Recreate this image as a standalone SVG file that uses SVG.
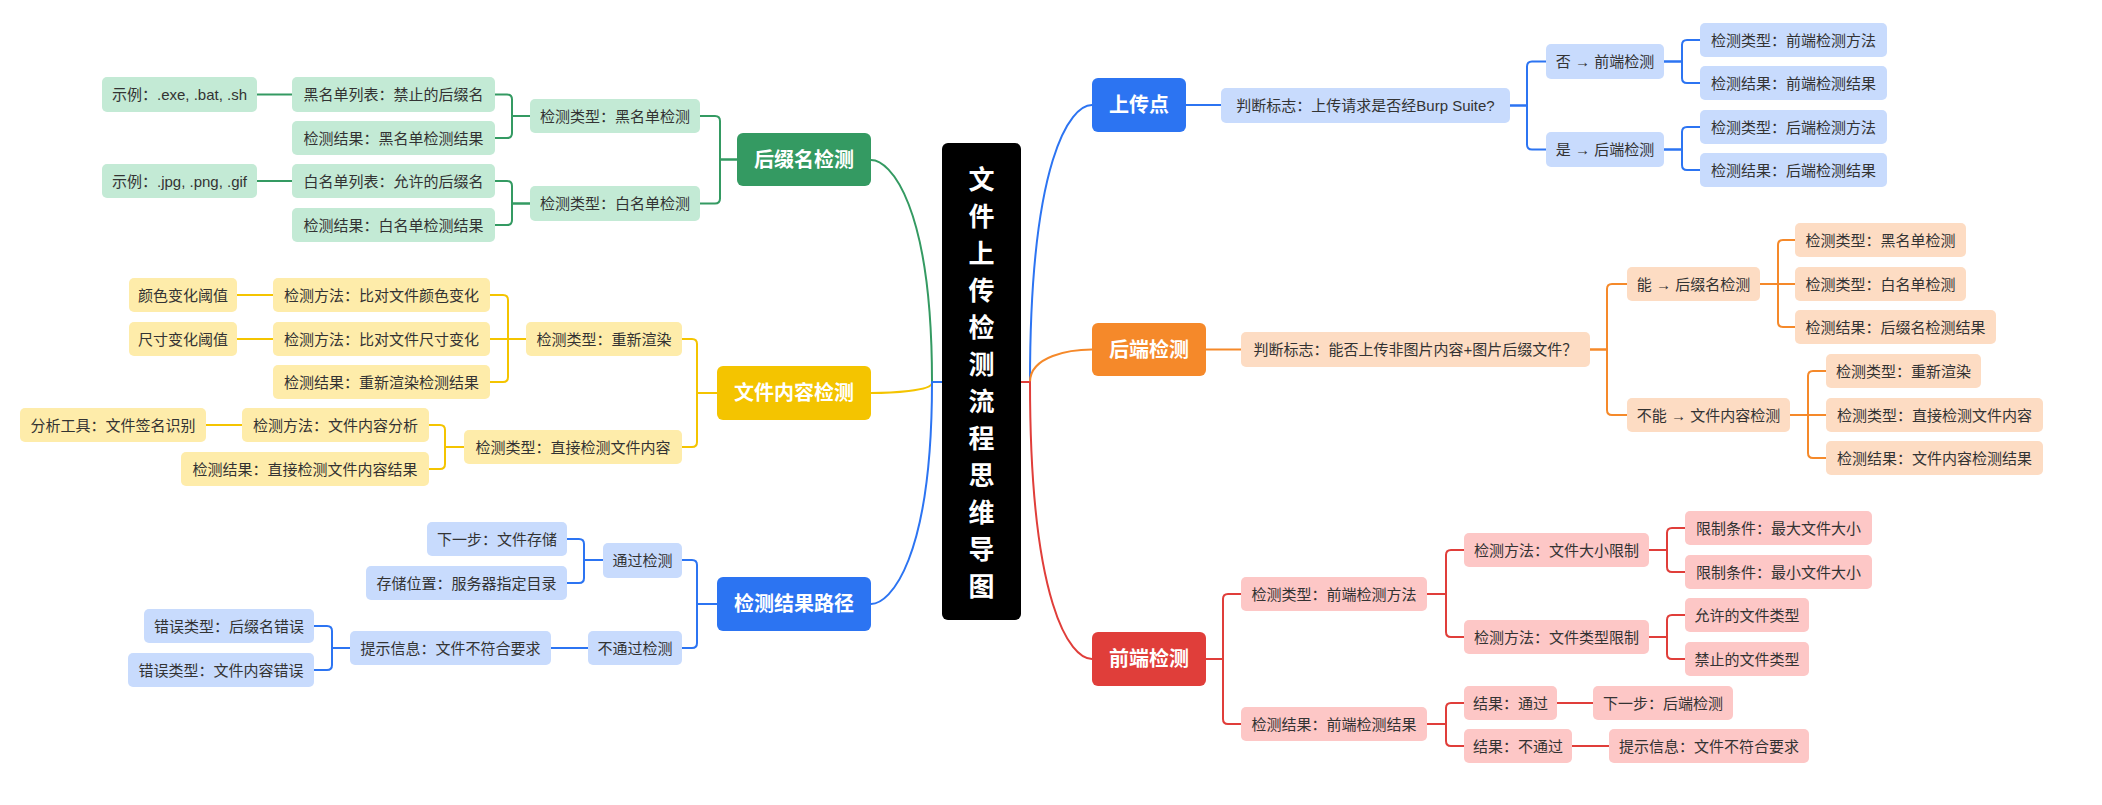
<svg xmlns="http://www.w3.org/2000/svg" width="2102" height="805" viewBox="0 0 2102 805">
<style>
text{font-family:"Liberation Sans","Noto Sans CJK SC",sans-serif;text-anchor:middle;dominant-baseline:central}
.t{font-size:15px;fill:#333}
.h{font-size:20px;font-weight:bold;fill:#fff}
.c{font-size:26px;font-weight:bold;fill:#fff}
.cn path{fill:none;stroke-width:2;stroke-linecap:round}
.bl{stroke:#2C74F2}.or{stroke:#F5892A}.rd{stroke:#E03E3A}.gr{stroke:#349A62}.yl{stroke:#F4C400}
.lb{fill:#C8DBFD}.lo{fill:#FDDCC3}.lr{fill:#FDC7C6}.lg{fill:#C3EAD5}.ly{fill:#FEECAA}
.Hb{fill:#2C74F2}.Ho{fill:#F5892A}.Hr{fill:#E03E3A}.Hg{fill:#349A62}.Hy{fill:#F4C400}
</style>
<rect width="2102" height="805" fill="#fff"/>
<g id="connectors" class="cn">
<path class="bl" d="M942 382H932"/>
<path class="rd" d="M1021 382H1030"/>
<path class="gr" d="M932 382C932 204 890 160 871 160"/>
<path class="yl" d="M932 383C932 391 890 393 871 393"/>
<path class="bl" d="M932 382C932 560 890 604 871 604"/>
<path class="bl" d="M1030 382C1030 160 1070 105 1092 105"/>
<path class="or" d="M1030 382C1030 356 1070 349.5 1092 349.5"/>
<path class="rd" d="M1030 382C1030 604 1070 659 1092 659"/>
<path class="bl" d="M1186 105H1221"/>
<path class="bl" d="M1510 105.5H1527V66.5Q1527 61.5 1532 61.5H1546"/>
<path class="bl" d="M1510 105.5H1527V144.5Q1527 149.5 1532 149.5H1546"/>
<path class="bl" d="M1664 61.5H1682V45Q1682 40 1687 40H1700"/>
<path class="bl" d="M1664 61.5H1682V78Q1682 83 1687 83H1700"/>
<path class="bl" d="M1664 149.5H1682V132Q1682 127 1687 127H1700"/>
<path class="bl" d="M1664 149.5H1682V165Q1682 170 1687 170H1700"/>
<path class="or" d="M1206 349.5H1241"/>
<path class="or" d="M1590 349.5H1607V289Q1607 284 1612 284H1627"/>
<path class="or" d="M1590 349.5H1607V410Q1607 415 1612 415H1627"/>
<path class="or" d="M1760 284H1778V245Q1778 240 1783 240H1795"/>
<path class="or" d="M1760 284H1795"/>
<path class="or" d="M1760 284H1778V322Q1778 327 1783 327H1795"/>
<path class="or" d="M1790 415H1808V376Q1808 371 1813 371H1826"/>
<path class="or" d="M1790 415H1826"/>
<path class="or" d="M1790 415H1808V453Q1808 458 1813 458H1826"/>
<path class="rd" d="M1206 659H1223V599Q1223 594 1228 594H1241"/>
<path class="rd" d="M1206 659H1223V719Q1223 724 1228 724H1241"/>
<path class="rd" d="M1427 594H1446V555Q1446 550 1451 550H1464"/>
<path class="rd" d="M1427 594H1446V632Q1446 637 1451 637H1464"/>
<path class="rd" d="M1649 550H1667V533Q1667 528 1672 528H1685"/>
<path class="rd" d="M1649 550H1667V567Q1667 572 1672 572H1685"/>
<path class="rd" d="M1649 637H1667V620Q1667 615 1672 615H1685"/>
<path class="rd" d="M1649 637H1667V654Q1667 659 1672 659H1685"/>
<path class="rd" d="M1427 724H1446V708Q1446 703 1451 703H1464"/>
<path class="rd" d="M1427 724H1446V741Q1446 746 1451 746H1464"/>
<path class="rd" d="M1557 703H1593"/>
<path class="rd" d="M1572 746H1609"/>
<path class="gr" d="M737 159.5H720V121Q720 116 715 116H700"/>
<path class="gr" d="M737 159.5H720V198.5Q720 203.5 715 203.5H700"/>
<path class="gr" d="M530 116H512V99.5Q512 94.5 507 94.5H495"/>
<path class="gr" d="M530 116H512V133Q512 138 507 138H495"/>
<path class="gr" d="M292 94.5H257"/>
<path class="gr" d="M530 203.5H512V186Q512 181 507 181H495"/>
<path class="gr" d="M530 203.5H512V220Q512 225 507 225H495"/>
<path class="gr" d="M292 181H257"/>
<path class="yl" d="M717 393H697V344Q697 339 692 339H682"/>
<path class="yl" d="M717 393H697V442Q697 447 692 447H682"/>
<path class="yl" d="M526 339H508V300Q508 295 503 295H490"/>
<path class="yl" d="M526 339H490"/>
<path class="yl" d="M526 339H508V377Q508 382 503 382H490"/>
<path class="yl" d="M273 295H237"/>
<path class="yl" d="M273 339H237"/>
<path class="yl" d="M464 447H445V430Q445 425 440 425H429"/>
<path class="yl" d="M464 447H445V464Q445 469 440 469H429"/>
<path class="yl" d="M242 425H206"/>
<path class="bl" d="M717 604H697V565Q697 560 692 560H682"/>
<path class="bl" d="M717 604H697V643Q697 648 692 648H682"/>
<path class="bl" d="M603 560H584V544Q584 539 579 539H567"/>
<path class="bl" d="M603 560H584V578Q584 583 579 583H567"/>
<path class="bl" d="M588 648H551"/>
<path class="bl" d="M350 648H332V631Q332 626 327 626H314"/>
<path class="bl" d="M350 648H332V665Q332 670 327 670H314"/>
</g>
<g id="center"><rect x="942" y="143" width="79" height="477" rx="6" fill="#000"/>
<text class="c" x="981.5" y="180">文</text><text class="c" x="981.5" y="217">件</text><text class="c" x="981.5" y="254">上</text><text class="c" x="981.5" y="291">传</text><text class="c" x="981.5" y="328">检</text><text class="c" x="981.5" y="365">测</text><text class="c" x="981.5" y="402">流</text><text class="c" x="981.5" y="439">程</text><text class="c" x="981.5" y="476">思</text><text class="c" x="981.5" y="513">维</text><text class="c" x="981.5" y="550">导</text><text class="c" x="981.5" y="587">图</text></g>
<g id="n-upload"><rect class="Hb" x="1092" y="78" width="94" height="54" rx="6"/><text class="h" x="1139" y="105">上传点</text></g>
<g id="n-up-flag"><rect class="lb" x="1221" y="88" width="289" height="35" rx="5"/><text class="t" x="1365.5" y="105.5">判断标志：上传请求是否经Burp Suite?</text></g>
<g id="n-up-no"><rect class="lb" x="1546" y="44" width="118" height="35" rx="5"/><text class="t" x="1605" y="61.5">否 → 前端检测</text></g>
<g id="n-up-yes"><rect class="lb" x="1546" y="132" width="118" height="35" rx="5"/><text class="t" x="1605" y="149.5">是 → 后端检测</text></g>
<g id="n-up-no-1"><rect class="lb" x="1700" y="23" width="187" height="34" rx="5"/><text class="t" x="1793.5" y="40">检测类型：前端检测方法</text></g>
<g id="n-up-no-2"><rect class="lb" x="1700" y="66" width="187" height="34" rx="5"/><text class="t" x="1793.5" y="83">检测结果：前端检测结果</text></g>
<g id="n-up-yes-1"><rect class="lb" x="1700" y="110" width="187" height="34" rx="5"/><text class="t" x="1793.5" y="127">检测类型：后端检测方法</text></g>
<g id="n-up-yes-2"><rect class="lb" x="1700" y="153" width="187" height="34" rx="5"/><text class="t" x="1793.5" y="170">检测结果：后端检测结果</text></g>
<g id="n-backend"><rect class="Ho" x="1092" y="323" width="114" height="53" rx="6"/><text class="h" x="1149" y="349.5">后端检测</text></g>
<g id="n-be-flag"><rect class="lo" x="1241" y="332" width="349" height="35" rx="5"/><text class="t" x="1415.5" y="349.5">判断标志：能否上传非图片内容+图片后缀文件？</text></g>
<g id="n-be-yes"><rect class="lo" x="1627" y="267" width="133" height="34" rx="5"/><text class="t" x="1693.5" y="284">能 → 后缀名检测</text></g>
<g id="n-be-no"><rect class="lo" x="1627" y="398" width="163" height="34" rx="5"/><text class="t" x="1708.5" y="415">不能 → 文件内容检测</text></g>
<g id="n-be-yes-1"><rect class="lo" x="1795" y="223" width="171" height="34" rx="5"/><text class="t" x="1880.5" y="240">检测类型：黑名单检测</text></g>
<g id="n-be-yes-2"><rect class="lo" x="1795" y="267" width="171" height="34" rx="5"/><text class="t" x="1880.5" y="284">检测类型：白名单检测</text></g>
<g id="n-be-yes-3"><rect class="lo" x="1795" y="310" width="201" height="34" rx="5"/><text class="t" x="1895.5" y="327">检测结果：后缀名检测结果</text></g>
<g id="n-be-no-1"><rect class="lo" x="1826" y="354" width="155" height="34" rx="5"/><text class="t" x="1903.5" y="371">检测类型：重新渲染</text></g>
<g id="n-be-no-2"><rect class="lo" x="1826" y="398" width="217" height="34" rx="5"/><text class="t" x="1934.5" y="415">检测类型：直接检测文件内容</text></g>
<g id="n-be-no-3"><rect class="lo" x="1826" y="441" width="217" height="34" rx="5"/><text class="t" x="1934.5" y="458">检测结果：文件内容检测结果</text></g>
<g id="n-frontend"><rect class="Hr" x="1092" y="632" width="114" height="54" rx="6"/><text class="h" x="1149" y="659">前端检测</text></g>
<g id="n-fe-type"><rect class="lr" x="1241" y="577" width="186" height="34" rx="5"/><text class="t" x="1334" y="594">检测类型：前端检测方法</text></g>
<g id="n-fe-res"><rect class="lr" x="1241" y="707" width="186" height="34" rx="5"/><text class="t" x="1334" y="724">检测结果：前端检测结果</text></g>
<g id="n-fe-size"><rect class="lr" x="1464" y="533" width="185" height="34" rx="5"/><text class="t" x="1556.5" y="550">检测方法：文件大小限制</text></g>
<g id="n-fe-kind"><rect class="lr" x="1464" y="620" width="185" height="34" rx="5"/><text class="t" x="1556.5" y="637">检测方法：文件类型限制</text></g>
<g id="n-fe-max"><rect class="lr" x="1685" y="511" width="187" height="34" rx="5"/><text class="t" x="1778.5" y="528">限制条件：最大文件大小</text></g>
<g id="n-fe-min"><rect class="lr" x="1685" y="555" width="187" height="34" rx="5"/><text class="t" x="1778.5" y="572">限制条件：最小文件大小</text></g>
<g id="n-fe-allow"><rect class="lr" x="1685" y="598" width="124" height="34" rx="5"/><text class="t" x="1747" y="615">允许的文件类型</text></g>
<g id="n-fe-deny"><rect class="lr" x="1685" y="642" width="124" height="34" rx="5"/><text class="t" x="1747" y="659">禁止的文件类型</text></g>
<g id="n-fe-pass"><rect class="lr" x="1464" y="686" width="93" height="34" rx="5"/><text class="t" x="1510.5" y="703">结果：通过</text></g>
<g id="n-fe-next"><rect class="lr" x="1593" y="686" width="140" height="34" rx="5"/><text class="t" x="1663" y="703">下一步：后端检测</text></g>
<g id="n-fe-fail"><rect class="lr" x="1464" y="729" width="108" height="34" rx="5"/><text class="t" x="1518" y="746">结果：不通过</text></g>
<g id="n-fe-tip"><rect class="lr" x="1609" y="729" width="200" height="34" rx="5"/><text class="t" x="1709" y="746">提示信息：文件不符合要求</text></g>
<g id="n-suffix"><rect class="Hg" x="737" y="133" width="134" height="53" rx="6"/><text class="h" x="804" y="159.5">后缀名检测</text></g>
<g id="n-sf-black"><rect class="lg" x="530" y="99" width="170" height="34" rx="5"/><text class="t" x="615" y="116">检测类型：黑名单检测</text></g>
<g id="n-sf-white"><rect class="lg" x="530" y="186" width="170" height="35" rx="5"/><text class="t" x="615" y="203.5">检测类型：白名单检测</text></g>
<g id="n-sf-blist"><rect class="lg" x="292" y="77" width="203" height="35" rx="5"/><text class="t" x="393.5" y="94.5">黑名单列表：禁止的后缀名</text></g>
<g id="n-sf-bres"><rect class="lg" x="292" y="121" width="203" height="34" rx="5"/><text class="t" x="393.5" y="138">检测结果：黑名单检测结果</text></g>
<g id="n-sf-bex"><rect class="lg" x="102" y="77" width="155" height="35" rx="5"/><text class="t" x="179.5" y="94.5">示例：.exe, .bat, .sh</text></g>
<g id="n-sf-wlist"><rect class="lg" x="292" y="164" width="203" height="34" rx="5"/><text class="t" x="393.5" y="181">白名单列表：允许的后缀名</text></g>
<g id="n-sf-wres"><rect class="lg" x="292" y="208" width="203" height="34" rx="5"/><text class="t" x="393.5" y="225">检测结果：白名单检测结果</text></g>
<g id="n-sf-wex"><rect class="lg" x="102" y="164" width="155" height="34" rx="5"/><text class="t" x="179.5" y="181">示例：.jpg, .png, .gif</text></g>
<g id="n-content"><rect class="Hy" x="717" y="366" width="154" height="54" rx="6"/><text class="h" x="794" y="393">文件内容检测</text></g>
<g id="n-ct-render"><rect class="ly" x="526" y="322" width="156" height="34" rx="5"/><text class="t" x="604" y="339">检测类型：重新渲染</text></g>
<g id="n-ct-direct"><rect class="ly" x="464" y="430" width="218" height="34" rx="5"/><text class="t" x="573" y="447">检测类型：直接检测文件内容</text></g>
<g id="n-ct-color"><rect class="ly" x="273" y="278" width="217" height="34" rx="5"/><text class="t" x="381.5" y="295">检测方法：比对文件颜色变化</text></g>
<g id="n-ct-dim"><rect class="ly" x="273" y="322" width="217" height="34" rx="5"/><text class="t" x="381.5" y="339">检测方法：比对文件尺寸变化</text></g>
<g id="n-ct-rres"><rect class="ly" x="273" y="365" width="217" height="34" rx="5"/><text class="t" x="381.5" y="382">检测结果：重新渲染检测结果</text></g>
<g id="n-ct-cth"><rect class="ly" x="129" y="278" width="108" height="34" rx="5"/><text class="t" x="183" y="295">颜色变化阈值</text></g>
<g id="n-ct-dth"><rect class="ly" x="129" y="322" width="108" height="34" rx="5"/><text class="t" x="183" y="339">尺寸变化阈值</text></g>
<g id="n-ct-anal"><rect class="ly" x="242" y="408" width="187" height="34" rx="5"/><text class="t" x="335.5" y="425">检测方法：文件内容分析</text></g>
<g id="n-ct-dres"><rect class="ly" x="181" y="452" width="248" height="34" rx="5"/><text class="t" x="305" y="469">检测结果：直接检测文件内容结果</text></g>
<g id="n-ct-tool"><rect class="ly" x="20" y="408" width="186" height="34" rx="5"/><text class="t" x="113" y="425">分析工具：文件签名识别</text></g>
<g id="n-path"><rect class="Hb" x="717" y="577" width="154" height="54" rx="6"/><text class="h" x="794" y="604">检测结果路径</text></g>
<g id="n-pa-pass"><rect class="lb" x="603" y="543" width="79" height="35" rx="5"/><text class="t" x="642.5" y="560.5">通过检测</text></g>
<g id="n-pa-fail"><rect class="lb" x="588" y="631" width="94" height="34" rx="5"/><text class="t" x="635" y="648">不通过检测</text></g>
<g id="n-pa-next"><rect class="lb" x="427" y="522" width="140" height="34" rx="5"/><text class="t" x="497" y="539">下一步：文件存储</text></g>
<g id="n-pa-loc"><rect class="lb" x="366" y="566" width="201" height="34" rx="5"/><text class="t" x="466.5" y="583">存储位置：服务器指定目录</text></g>
<g id="n-pa-tip"><rect class="lb" x="350" y="631" width="201" height="34" rx="5"/><text class="t" x="450.5" y="648">提示信息：文件不符合要求</text></g>
<g id="n-pa-e1"><rect class="lb" x="144" y="609" width="170" height="34" rx="5"/><text class="t" x="229" y="626">错误类型：后缀名错误</text></g>
<g id="n-pa-e2"><rect class="lb" x="128" y="653" width="186" height="34" rx="5"/><text class="t" x="221" y="670">错误类型：文件内容错误</text></g>
</svg>
